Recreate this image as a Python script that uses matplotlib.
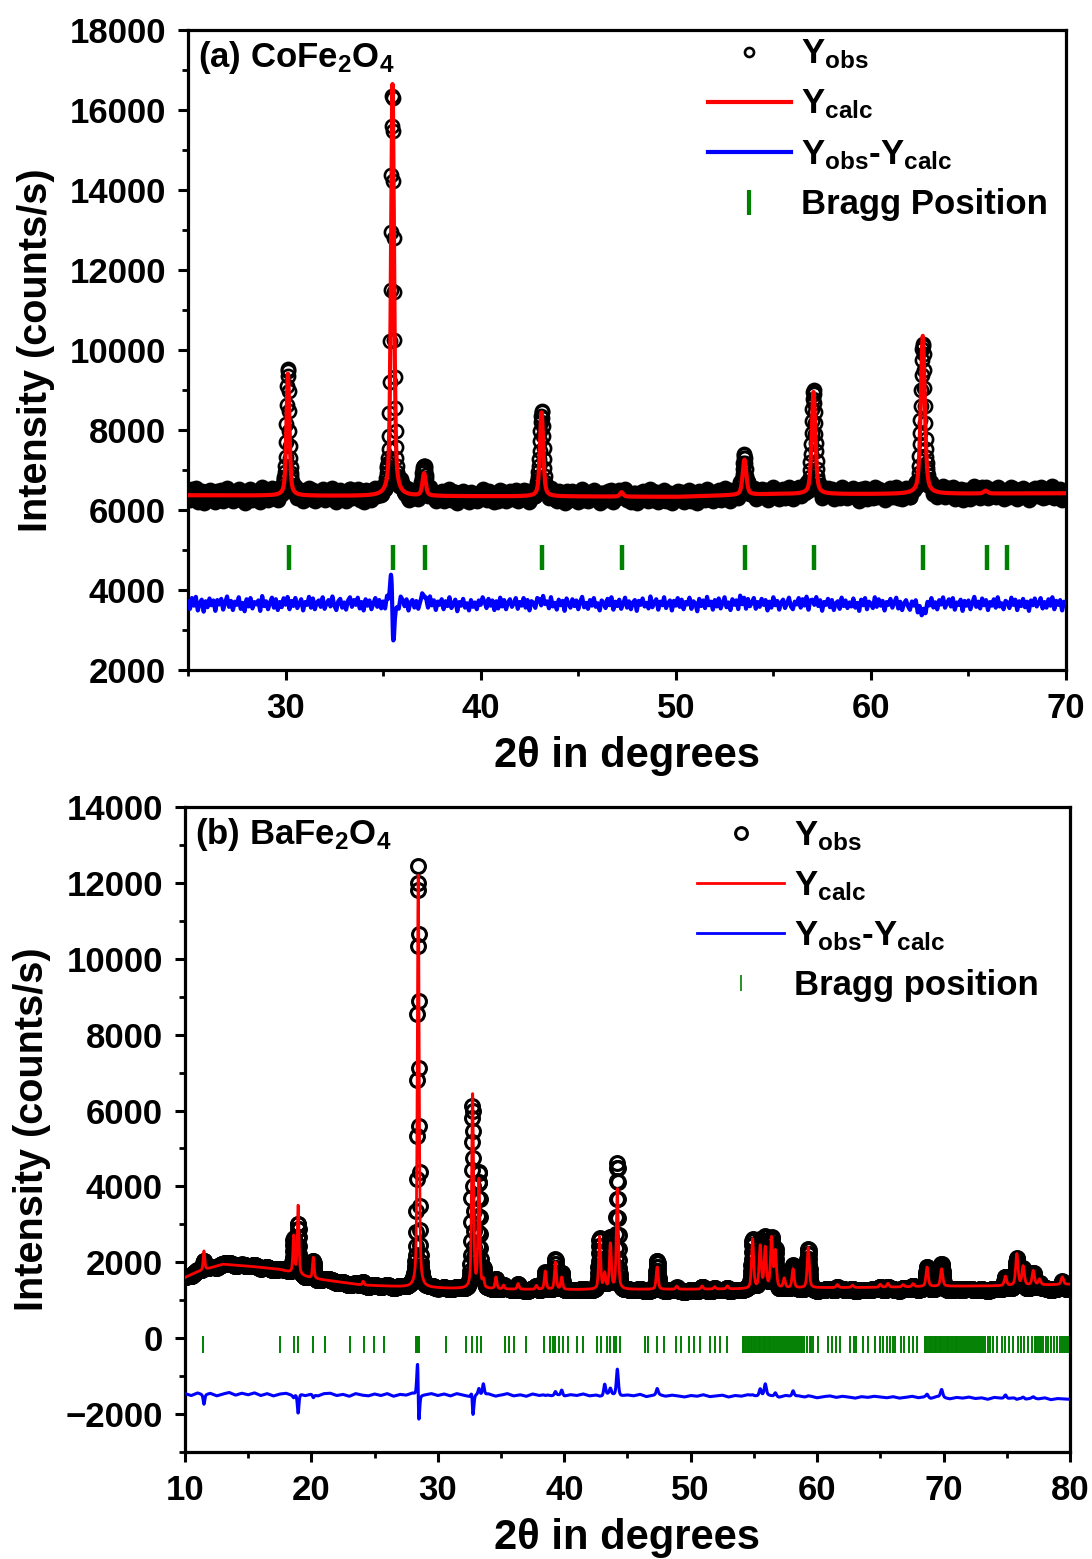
import numpy as np
import matplotlib
matplotlib.use("Agg")
import matplotlib.pyplot as plt
from matplotlib.lines import Line2D
from matplotlib.ticker import MultipleLocator

plt.rcParams['font.family'] = ['Liberation Sans', 'DejaVu Sans']
plt.rcParams['font.weight'] = 'bold'
plt.rcParams['axes.labelweight'] = 'bold'
plt.rcParams['mathtext.fontset'] = 'custom'
plt.rcParams['mathtext.rm'] = 'Liberation Sans:bold'
plt.rcParams['mathtext.it'] = 'Liberation Sans:bold'
plt.rcParams['mathtext.bf'] = 'Liberation Sans:bold'
plt.rcParams['mathtext.default'] = 'regular'

# ---------------- (a) CoFe2O4 ----------------
a_bg_x = [25, 35, 45, 50, 55, 60, 70]
a_bg_y = [6370, 6350, 6340, 6330, 6400, 6400, 6420]
a_pos_calc = [30.12, 35.48, 37.10, 43.12, 47.22, 53.52, 57.06, 62.66, 65.88]
a_pos_obs = [30.12, 35.47, 37.10, 43.12, 47.22, 53.52, 57.06, 62.66, 65.88]
a_h_calc = [3050, 10300, 560, 2100, 110, 880, 2550, 3950, 70]
a_h_obs = [3120, 10150, 800, 2220, 110, 960, 2650, 3680, 70]
a_fwhm = [0.18, 0.18, 0.2, 0.2, 0.2, 0.22, 0.22, 0.24, 0.24]
a_bragg = [30.15, 35.52, 37.15, 43.15, 47.25, 53.55, 57.1, 62.65, 65.95, 66.95]
a_diff_offset = 3650
# residual noise every 0.1 deg from 25 to 70 (one row per degree)
a_resid = [
    60, -120, 150, -40, 180, -160, 20, 110, -190, 70,
    -80, 140, -30, 90, -170, 100, -10, 130, -140, 40,
    190, -70, 80, -150, 60, -20, 170, -120, 30, -180,
    120, -60, 150, -110, 50, -10, 90, -170, 200, -50,
    70, -130, 40, 160, -90, 120, -150, 50, -80, 140,
    -40, 110, -170, 70, -50, 150, -100, 10, 120, -160,
    50, -20, 180, -90, 140, -130, 40, 90, -70, 170,
    -120, 20, 100, -60, 190, -40, -150, 70, 130, -90,
    40, -140, 90, 170, -70, 100, -20, 160, -110, 50,
    -160, 120, -40, 90, -130, 20, 150, -70, 100, -110,
    60, -120, 180, -30, 90, -150, 130, 10, -90, 200,
    110, -50, 120, -160, 40, 100, -90, 70, -130, 30,
    150, -70, 40, -120, 180, -40, 90, -150, 60, -20,
    120, -130, 70, -50, 170, -100, 20, 110, -180, 50,
    -40, 130, -90, 20, -160, 100, -70, 40, -130, 90,
    -20, 170, 50, -100, 130, -40, 90, -150, 70, -110,
    160, -60, 100, -130, 40, 120, -70, 20, 150, -120,
    50, -40, 150, -90, 100, -160, 70, 30, -100, 140,
    80, -150, 130, -20, 60, -110, 170, -60, 30, -140,
    110, -30, 80, -170, 140, 10, -90, 120, -50, 90,
    -130, 60, 180, -80, 30, -120, 100, -40, 150, -70,
    20, -160, 90, 40, -100, 130, -30, 170, -140, 60,
    -50, 110, -120, 10, 160, -90, 70, -130, 40, 100,
    -170, 80, -20, 140, -60, 30, -110, 190, -80, 50,
    120, -140, 60, -30, 170, -100, 20, 90, -160, 80,
    -40, 150, -70, 110, -130, 50, -10, 160, -120, 70,
    20, -180, 130, -50, 90, -100, 180, -30, 60, -140,
    100, -60, 140, -110, 30, 170, -80, 40, -150, 120,
    -20, 90, -130, 200, -40, 80, -170, 110, -60, 30,
    150, -120, 50, -70, 130, -20, 100, -160, 60, -90,
    170, -30, 80, -140, 40, 110, -100, 20, 160, -60,
    -130, 60, -10, 150, -90, 120, -40, 180, -150, 70,
    30, -110, 140, -60, 90, -170, 50, -20, 130, -80,
    100, -150, 20, 70, -120, 160, -50, 90, -100, 40,
    -60, 140, -90, 30, -170, 110, -30, 150, -130, 60,
    10, -100, 170, -70, 120, -40, 80, -160, 50, -20,
    130, -90, 40, 160, -110, 60, -150, 20, 100, -50,
    -140, 70, -30, 110, -180, 40, -60, 130, -120, 90,
    -20, 160, -80, 50, -130, 100, -10, 170, -90, 30,
    120, -60, 150, -140, 40, -20, 110, -170, 80, -40,
    90, -130, 30, 180, -70, 60, -110, 140, -30, 100,
    -150, 50, -40, 120, -90, 170, -60, 20, -130, 80,
    40, -100, 160, -20, 110, -150, 70, -50, 130, -80,
    60, -170, 90, -30, 140, -60, 20, 150, -110, 50,
    -90, 120, -40, 170, -130, 80, -20, 100, -160, 60,
    30,
]

# ---------------- (b) BaFe2O4 ----------------
b_bg_x = [10, 11, 13, 15, 17.5, 20, 24, 28, 31, 35, 40, 50, 55, 60, 65, 70, 75, 80]
b_bg_y = [1600, 1750, 1950, 1900, 1810, 1580, 1400, 1340, 1310, 1290, 1280, 1290,
          1300, 1330, 1340, 1370, 1380, 1420]
b_pos_calc = [11.5, 18.6, 18.95, 20.15, 24.1, 28.45, 32.75, 33.25, 33.6, 34.6, 35.2,
              36.35, 37.8, 38.5, 39.3, 39.8, 42.8, 43.2, 43.65, 44.2, 47.35, 48.9,
              50.9, 51.9, 52.9, 54.9, 55.5, 55.9, 56.4, 56.7, 57.4, 58.1, 59.3, 61.6,
              62.8, 65.0, 65.6, 66.8, 67.6, 68.7, 69.85, 74.9, 75.8, 76.3, 77.1, 77.6,
              79.4]
b_h_calc = [500, 970, 1830, 560, 100, 11000, 5160, 2870, 200, 310, 100,
            150, 100, 480, 720, 320, 1380, 400, 1190, 2640, 590, 80,
            80, 60, 80, 1300, 1100, 1050, 1300, 950, 250, 500, 1060, 80,
            60, 80, 100, 60, 80, 510, 460, 250, 830, 500, 380, 150,
            200]
b_h_obs = [250, 900, 1300, 480, 100, 11150, 4800, 3040, 500, 300, 100,
           150, 100, 450, 820, 470, 1370, 700, 1350, 3340, 760, 80,
           80, 60, 80, 1320, 1300, 1350, 1300, 1050, 250, 650, 1080, 80,
           60, 80, 100, 60, 80, 600, 670, 350, 800, 550, 420, 150,
           200]
b_shift = {28.45: -0.008, 32.75: -0.006}
b_bragg = [11.45, 17.52, 18.65, 18.97, 20.15, 21.08, 23.05, 24.16, 24.98, 25.74,
           28.25, 28.35, 28.45, 28.55, 30.65, 32.2, 32.68, 33.07, 33.38, 35.3,
           35.6, 36.0, 36.95, 38.4, 38.9, 39.1, 39.3, 39.6, 39.9, 40.3,
           41.0, 41.5, 42.6, 42.9, 43.4, 43.6, 43.9, 44.1, 44.4,
           46.4, 46.6, 47.3, 47.9, 48.8, 49.2, 49.9, 50.3, 50.7, 51.5, 51.9, 52.3, 52.9,
           54.1, 54.2, 54.35, 54.5, 54.6, 54.75, 54.85, 55.0, 55.1, 55.25, 55.4, 55.5,
           55.65, 55.8, 55.9, 56.05, 56.2, 56.3, 56.45, 56.6, 56.75, 56.9, 57.05, 57.2,
           57.4, 57.55, 57.7, 57.85, 58.0, 58.2, 58.3, 58.5, 58.65, 58.8, 59.0, 59.2,
           59.4, 59.5, 59.7, 60.1,
           60.9, 61.2, 61.5, 61.8, 62.6, 62.9, 63.1, 63.6, 64.0,
           64.6, 65.0, 65.2, 65.5, 65.8, 66.0, 66.2, 66.6, 66.9, 67.3, 67.6, 67.9,
           68.5, 68.6, 68.75, 68.9, 69.0, 69.15, 69.3, 69.4, 69.55, 69.7, 69.8, 69.95,
           70.1, 70.25, 70.35, 70.5, 70.65, 70.8, 70.95, 71.1, 71.25, 71.4, 71.55, 71.7,
           71.85, 72.0, 72.15, 72.3, 72.5, 72.65, 72.8, 73.0, 73.15, 73.3, 73.5, 73.7,
           73.9, 74.2, 74.6, 74.9, 75.2, 75.5, 75.9, 76.1, 76.4, 76.7,
           77.0, 77.2, 77.35, 77.5, 77.6, 77.75, 77.9, 78.1, 78.3, 78.5, 78.7,
           79.0, 79.2, 79.4, 79.55, 79.7, 79.85]
b_diff_offset = -1480
# residual noise every 0.5 deg from 10 to 80
b_resid = [
    20, -30, 40, -10, 30, -40, 10, 50, -20, 30,
    -10, 40, -30, 20, -40, 10, 30, -20, 40, -30,
    10, -40, 20, 30, -30, 0, -50, 20, -20, -40,
    10, -30, 20, -50, 0, -20, 30, -40, -10, 20,
    -30, 10, -40, 20, -20, -50, 0, -30, 10, -40,
    -20, 20, -40, -10, -50, 10, -30, 0, -40, -20,
    -50, -10, -30, 10, -40, -20, -60, 0, -30, -50,
    -20, -40, 0, -60, -30, -10, -50, -20, -40, -70,
    -30, -50, -10, -60, -40, -20, -70, -30, -50, -10,
    -40, -60, -20, -50, -80, -30, -60, -40, -70, -50,
    -90, -60, -40, -80, -50, -70, -100, -60, -80, -50,
    -70, -90, -60, -100, -80, -50, -90, -70, -110, -60,
    -90, -120, -80, -100, -70, -110, -90, -130, -80, -100,
    -120, -90, -110, -130, -100, -120, -90, -140, -110, -120,
    -130,
]


def pvoigt(x, x0, fwhm, eta=0.5):
    d = ((x - x0) / fwhm) ** 2
    return eta / (1 + 4 * d) + (1 - eta) * np.exp(-4 * np.log(2) * d)


def profile(x, bgx, bgy, pos, h, fw):
    y = np.interp(x, bgx, bgy)
    for p, hh, w in zip(pos, h, fw):
        y = y + hh * pvoigt(x, p, w)
    return y


# patterns on a 0.02 deg scan
xa = np.arange(25, 70.0001, 0.02)
calc_a = profile(xa, a_bg_x, a_bg_y, a_pos_calc, a_h_calc, a_fwhm)
noise_a = np.interp(xa, np.linspace(25, 70, len(a_resid)), a_resid)
obs_a = profile(xa, a_bg_x, a_bg_y, a_pos_obs, a_h_obs, a_fwhm) + noise_a
diff_a = obs_a - calc_a + a_diff_offset

b_fwhm = [0.14 + 0.0012 * (p - 10) for p in b_pos_calc]
b_pos_obs = [p + b_shift.get(p, 0.0) for p in b_pos_calc]
xb = np.arange(10, 80.0001, 0.02)
calc_b = profile(xb, b_bg_x, b_bg_y, b_pos_calc, b_h_calc, b_fwhm)
noise_b = np.interp(xb, np.linspace(10, 80, len(b_resid)), b_resid)
obs_b = profile(xb, b_bg_x, b_bg_y, b_pos_obs, b_h_obs, b_fwhm) + noise_b
diff_b = obs_b - calc_b + b_diff_offset

fig = plt.figure(figsize=(10.92, 15.59), dpi=100)
ax1 = fig.add_axes([0.1722, 0.5702, 0.8040, 0.4105])
ax2 = fig.add_axes([0.1694, 0.0686, 0.8104, 0.4138])


def style(ax):
    for s in ax.spines.values():
        s.set_linewidth(2.3)
    ax.tick_params(which='major', direction='out', length=7, width=2.2,
                   labelsize=25, pad=9, top=False, right=False)
    ax.tick_params(which='minor', direction='out', length=4, width=2,
                   top=False, right=False)
    ax.set_xlabel('2θ in degrees', fontsize=30, labelpad=8)
    ax.set_ylabel('Intensity (counts/s)', fontsize=28.5, labelpad=10)


# (a)
ax1.plot(xa, obs_a, 'o', ms=9.5, mfc='none', mec='black', mew=1.9, zorder=2)
ax1.plot(xa, calc_a, color='#ff0000', lw=3.0, zorder=3)
ax1.plot(xa, diff_a, color='#0000ff', lw=3.0, zorder=3)
ax1.vlines(a_bragg, 4500, 5125, color='#008000', lw=3.2, zorder=3)
ax1.set_xlim(25, 70)
ax1.set_ylim(2000, 18000)
ax1.xaxis.set_major_locator(MultipleLocator(10))
ax1.xaxis.set_minor_locator(MultipleLocator(5))
ax1.yaxis.set_major_locator(MultipleLocator(2000))
ax1.yaxis.set_minor_locator(MultipleLocator(1000))
style(ax1)
ax1.text(0.011, 0.986, r'(a) CoFe$_2$O$_4$', transform=ax1.transAxes,
         fontsize=25, ha='left', va='top')
handles_a = [
    Line2D([], [], ls='none', marker='o', ms=6.5, mfc='none', mec='black', mew=1.9),
    Line2D([], [], color='#ff0000', lw=3.0),
    Line2D([], [], color='#0000ff', lw=3.0),
    Line2D([], [], ls='none', marker='|', ms=18, mew=3, color='#008000'),
]
ax1.legend(handles_a, [r'Y$_{obs}$', r'Y$_{calc}$', r'Y$_{obs}$-Y$_{calc}$', 'Bragg Position'],
           loc='upper left', bbox_to_anchor=(0.592, 0.988), frameon=False,
           fontsize=25, handlelength=2.4, handletextpad=0.28, labelspacing=0.47,
           borderpad=0, borderaxespad=0)

# (b)
ax2.plot(xb, obs_b, 'o', ms=10, mfc='none', mec='black', mew=2.2, zorder=2)
ax2.plot(xb, calc_b, color='#ff0000', lw=2.0, zorder=3)
ax2.plot(xb, diff_b, color='#0000ff', lw=2.2, zorder=3)
ax2.vlines(b_bragg, -400, 60, color='#008000', lw=1.4, zorder=3)
ax2.set_xlim(10, 80)
ax2.set_ylim(-3000, 14000)
ax2.xaxis.set_major_locator(MultipleLocator(10))
ax2.xaxis.set_minor_locator(MultipleLocator(5))
ax2.yaxis.set_major_locator(MultipleLocator(2000))
ax2.yaxis.set_minor_locator(MultipleLocator(1000))
style(ax2)
ax2.text(0.011, 0.986, r'(b) BaFe$_2$O$_4$', transform=ax2.transAxes,
         fontsize=25, ha='left', va='top')
handles_b = [
    Line2D([], [], ls='none', marker='o', ms=8.5, mfc='none', mec='black', mew=2.2),
    Line2D([], [], color='#ff0000', lw=2.0),
    Line2D([], [], color='#0000ff', lw=2.0),
    Line2D([], [], ls='none', marker='|', ms=12, mew=1.2, color='#008000'),
]
ax2.legend(handles_b, [r'Y$_{obs}$', r'Y$_{calc}$', r'Y$_{obs}$-Y$_{calc}$', 'Bragg position'],
           loc='upper left', bbox_to_anchor=(0.579, 0.981), frameon=False,
           fontsize=25, handlelength=2.5, handletextpad=0.28, labelspacing=0.47,
           borderpad=0, borderaxespad=0)

fig.savefig('out.png', dpi=100)
